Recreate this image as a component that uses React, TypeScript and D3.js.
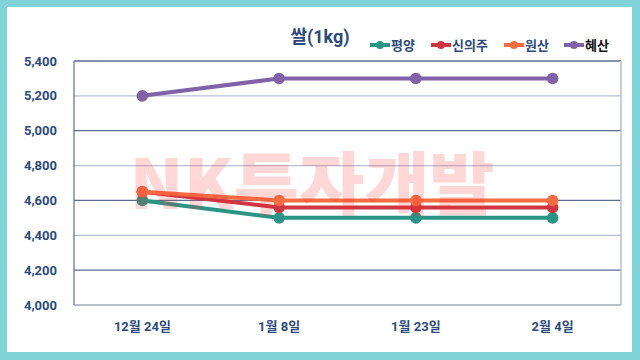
import React from "react";
import * as d3 from "d3";

const categories = ["12월 24일", "1월 8일", "1월 23일", "2월 4일"];
const seriesNames = ["평양", "신의주", "원산", "혜산"];
const pyongyang = [4600, 4500, 4500, 4500];
const sinuiju = [4650, 4560, 4560, 4560];
const wonsan = [4650, 4600, 4600, 4600];
const hyesan = [5200, 5300, 5300, 5300];
const yTicks = [4000, 4200, 4400, 4600, 4800, 5000, 5200, 5400];
const title = "쌀(1kg)";
const watermark = "NK투자개발";

const colors = ["#2A9485", "#CF3641", "#F56D40", "#8062A8"];
const legendTextColors = ["#2C4A7C", "#2C4A7C", "#2C4A7C", "#111111"];

export default function App() {
  const W = 640, H = 360;
  const left = 74, right = 621, top = 61, bottom = 305;
  const x = d3.scaleBand<string>().domain(categories).range([left, right]);
  const y = d3.scaleLinear().domain([4000, 5400]).range([bottom, top]);
  const allSeries = [pyongyang, sinuiju, wonsan, hyesan];
  const line = d3
    .line<number>()
    .x((_, i) => (x(categories[i]) as number) + x.bandwidth() / 2)
    .y((v) => y(v));
  const font = "Roboto, 'Noto Sans CJK KR', sans-serif";
  const legendX = [370, 431, 504, 564];
  const legendW = [20, 20, 20, 20];

  return (
    <svg
      width={W}
      height={H}
      style={{ position: "absolute", left: 0, top: 0 }}
      fontFamily={font}
    >
      <rect x={0} y={0} width={W} height={H} fill="#80D3D6" />
      <rect x={7} y={7} width={625} height={345} fill="#FFFFFF" />

      {yTicks.map((t, i) => {
        const yy = y(t);
        let stroke = i % 2 === 0 ? "#B4C0D3" : "#5A6D90";
        if (t === 4000) stroke = "#A3A9B3";
        return (
          <line key={t} x1={left} x2={right} y1={yy} y2={yy} stroke={stroke} strokeWidth={1.3} />
        );
      })}
      <line x1={left} x2={left} y1={top} y2={bottom} stroke="#5A6D90" strokeWidth={1.2} />
      <line x1={right} x2={right} y1={top} y2={bottom} stroke="#B4C0D3" strokeWidth={1.5} />

      {yTicks.map((t) => (
        <text
          key={t}
          x={57}
          y={y(t)}
          textAnchor="end"
          dominantBaseline="central"
          fontSize={13}
          fontWeight="bold"
          fill="#2C4A7C"
        >
          {d3.format(",")(t)}
        </text>
      ))}
      {categories.map((c) => (
        <text
          key={c}
          x={(x(c) as number) + x.bandwidth() / 2}
          y={326}
          textAnchor="middle"
          dominantBaseline="central"
          fontSize={13}
          fontWeight="bold"
          fill="#2C4A7C"
        >
          {c}
        </text>
      ))}

      {allSeries.map((s, si) => (
        <g key={si}>
          <path d={line(s) || ""} fill="none" stroke={colors[si]} strokeWidth={4} strokeLinejoin="round" />
          {s.map((v, i) => (
            <circle
              key={i}
              cx={(x(categories[i]) as number) + x.bandwidth() / 2}
              cy={y(v)}
              r={5.8}
              fill={colors[si]}
            />
          ))}
        </g>
      ))}

      <text
        x={312}
        y={179}
        textAnchor="middle"
        dominantBaseline="central"
        fontSize={68}
        fontWeight={900}
        fontFamily="'Noto Sans CJK KR', sans-serif"
        fill="#FF2A2A"
        fillOpacity={0.19}
        textLength={365}
        lengthAdjust="spacingAndGlyphs"
      >
        {watermark}
      </text>

      <text
        x={320}
        y={36}
        textAnchor="middle"
        dominantBaseline="central"
        fontSize={18}
        fontWeight="bold"
        fill="#2C4A7C"
      >
        {title}
      </text>

      {seriesNames.map((n, i) => (
        <g key={n}>
          <line
            x1={legendX[i]}
            x2={legendX[i] + legendW[i]}
            y1={45}
            y2={45}
            stroke={colors[i]}
            strokeWidth={4}
          />
          <circle cx={legendX[i] + legendW[i] / 2} cy={45} r={4} fill={colors[i]} />
          <text
            x={legendX[i] + legendW[i] + 1}
            y={45}
            dominantBaseline="central"
            fontSize={13}
            fontWeight="bold"
            fill={legendTextColors[i]}
          >
            {n}
          </text>
        </g>
      ))}
    </svg>
  );
}
